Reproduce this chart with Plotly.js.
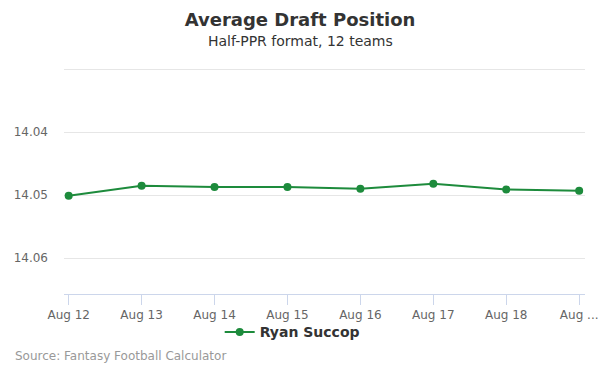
<!DOCTYPE html>
<html><head><meta charset="utf-8">
<script src="https://cdn.plot.ly/plotly-3.0.1.min.js"></script>
<style>html,body{margin:0;padding:0;background:#fff}#chart{width:600px;height:375px}</style>
</head><body><div id="chart"></div>
<script>
const dates = ["Aug 12","Aug 13","Aug 14","Aug 15","Aug 16","Aug 17","Aug 18","Aug 19"];
const tickLabels = ["Aug 12","Aug 13","Aug 14","Aug 15","Aug 16","Aug 17","Aug 18","Aug ..."];
const adp = [14.0501, 14.0485, 14.0487, 14.0487, 14.0490, 14.0482, 14.0491, 14.0493];
const yTicks = [14.03, 14.04, 14.05, 14.06];
const yTickText = ["", "14.04", "14.05", "14.06"];
const playerName = "Ryan Succop";
const green = "#1d8b3c";
const font = "DejaVu Sans, sans-serif";

const trace = {
  x: dates.map((d,i)=>i), y: adp, type: "scatter", mode: "lines+markers",
  name: playerName,
  line: {color: green, width: 2},
  marker: {color: green, size: 8},
  hoverinfo: "x+y"
};
const layout = {
  width: 600, height: 375,
  margin: {l: 64, r: 15, t: 68, b: 81},
  paper_bgcolor: "#fff", plot_bgcolor: "#fff",
  font: {family: font, color: "#666", size: 12},
  title: {text: "<b>Average Draft Position</b>", x: 0.5, xanchor: "center", y: 0.947, yanchor: "middle",
          font: {family: font, size: 18, color: "#333"}},
  xaxis: {
    range: [-0.064, 7.08], tickvals: dates.map((d,i)=>i), ticktext: tickLabels,
    showgrid: false, zeroline: false,
    showline: true, linecolor: "#ccd6eb", linewidth: 1,
    ticks: "outside", ticklen: 10, tickcolor: "#ccd6eb",
    tickfont: {family: font, size: 12, color: "#666"}
  },
  yaxis: {
    range: [14.0657, 14.0298], tickvals: yTicks, ticktext: yTickText,
    showgrid: true, gridcolor: "#e6e6e6", gridwidth: 1, zeroline: false, showline: false,
    ticks: "", ticklabelstandoff: 15,
    tickfont: {family: font, size: 12, color: "#666"}
  },
  showlegend: true,
  legend: {orientation: "h", x: 0.438, xanchor: "center", y: -0.17, yanchor: "middle",
           bgcolor: "rgba(0,0,0,0)", itemwidth: 30,
           font: {family: font, size: 14, color: "#333", weight: "bold"}},
  annotations: [
    {text: "Half-PPR format, 12 teams", xref: "paper", yref: "paper", x: 0.453, xanchor: "center",
     y: 1, yshift: 27, yanchor: "middle", showarrow: false,
     font: {family: font, size: 14, color: "#333"}},
    {text: "Source: Fantasy Football Calculator", xref: "paper", yref: "paper",
     x: 0, xshift: -51, xanchor: "left", y: 0, yshift: -62, yanchor: "middle", showarrow: false,
     font: {family: font, size: 12, color: "#999"}}
  ]
};
Plotly.newPlot("chart", [trace], layout, {displayModeBar: false, staticPlot: true});
</script></body></html>
